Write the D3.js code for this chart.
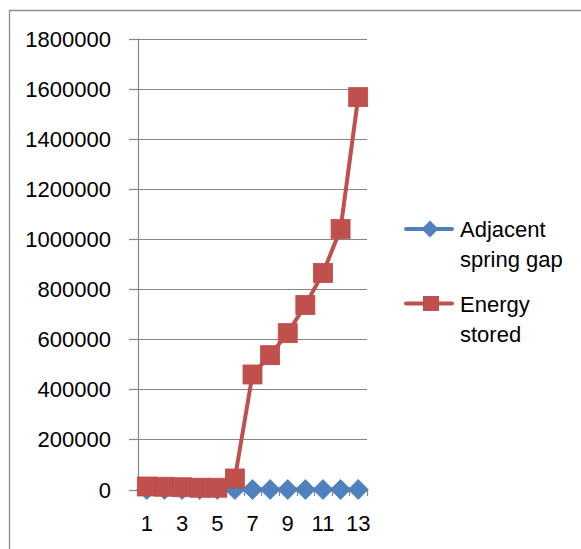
<!DOCTYPE html>
<html><head><meta charset="utf-8">
<script src="https://cdn.jsdelivr.net/npm/d3@7"></script>
<style>html,body{margin:0;padding:0;background:#fff;}svg{display:block;}</style>
</head><body>
<svg id="chart" width="581" height="549"></svg>
<script>
const categories = [1,2,3,4,5,6,7,8,9,10,11,12,13];
const springGap = [0,0,0,0,0,0,0,0,0,0,0,0,0];
const energyStored = [12000,11000,9000,7000,7000,44000,459000,536000,624000,736000,864000,1040000,1566000];
const yTicks = [0,200000,400000,600000,800000,1000000,1200000,1400000,1600000,1800000];
const xTickLabels = [1,3,5,7,9,11,13];
const seriesNames = ["Adjacent spring gap","Energy stored"];

const svg = d3.select("#chart");
const FONT = "'Liberation Sans', Arial, sans-serif";
const FS = 22;
const grid = "#868686";

// chart frame
svg.append("path").attr("d","M9.5,549 V10.5 H581").attr("fill","none").attr("stroke","#8c8c8c").attr("stroke-width",1.3);

const x = d3.scaleBand().domain(categories).range([138,367]).padding(0);
const y = d3.scaleLinear().domain([0,1800000]).range([489.5,38.5]);
const cx = d => x(d) + x.bandwidth()/2;

// gridlines
svg.append("g").selectAll("line").data(yTicks.filter(t=>t>0)).join("line")
  .attr("x1",138).attr("x2",367).attr("y1",d=>Math.round(y(d))+0.5).attr("y2",d=>Math.round(y(d))+0.5)
  .attr("stroke",grid).attr("stroke-width",1.2);

// y axis
const yAxis = d3.axisLeft(y).tickValues(yTicks).tickSize(9).tickPadding(18).tickFormat(d3.format("d"));
const gy = svg.append("g").attr("transform","translate(138,0)").call(yAxis);
gy.select(".domain").attr("stroke",grid).attr("stroke-width",1.2).attr("d","M0.5,38.5V489.5");
gy.selectAll(".tick line").attr("stroke",grid).attr("stroke-width",1.2);
gy.selectAll(".tick").attr("transform",d=>`translate(0,${Math.round(y(d))+0.5})`);
gy.selectAll("text").attr("font-family",FONT).attr("font-size",FS).attr("fill","#000").attr("dy","0.35em");

// x axis
const xAxis = d3.axisBottom(x).tickValues(xTickLabels).tickSize(0).tickPadding(25);
const gx = svg.append("g").attr("transform","translate(0,490)").call(xAxis);
gx.select(".domain").attr("stroke",grid).attr("stroke-width",1.2).attr("d","M138,0H367");
gx.selectAll("text").attr("font-family",FONT).attr("font-size",FS).attr("fill","#000");
// category boundary ticks
svg.append("g").selectAll("line").data(categories.concat([14])).join("line")
  .attr("x1",(d,i)=> i<13 ? Math.round(x(d))+0.5 : 367.5).attr("x2",(d,i)=> i<13 ? Math.round(x(d))+0.5 : 367.5)
  .attr("y1",490).attr("y2",496).attr("stroke",grid).attr("stroke-width",1.2);

const line = d3.line().x((d,i)=>cx(categories[i])).y(d=>y(d));

// blue series
svg.append("path").datum(springGap).attr("d",line).attr("fill","none").attr("stroke","#4F81BD").attr("stroke-width",4);
const dia = 10;
svg.append("g").selectAll("path").data(springGap).join("path")
  .attr("d",(d,i)=>{const px=cx(categories[i]),py=y(d);return `M${px},${py-dia}L${px+dia},${py}L${px},${py+dia}L${px-dia},${py}Z`;})
  .attr("fill","#4F81BD").attr("stroke","#4A7EBB").attr("stroke-width",0.8);

// red series
svg.append("path").datum(energyStored).attr("d",line).attr("fill","none").attr("stroke","#C0504D").attr("stroke-width",4);
const sq = 19;
svg.append("g").selectAll("rect").data(energyStored).join("rect")
  .attr("x",(d,i)=>cx(categories[i])-sq/2).attr("y",d=>y(d)-sq/2).attr("width",sq).attr("height",sq)
  .attr("fill","#C0504D").attr("stroke","#BE4B48").attr("stroke-width",0.8);

// legend
const leg = svg.append("g");
const legItems = [
  {name1:"Adjacent", name2:"spring gap", color:"#4F81BD", y:229, shape:"diamond"},
  {name1:"Energy", name2:"stored", color:"#C0504D", y:303.5, shape:"square"}
];
legItems.forEach((it,i)=>{
  leg.append("line").attr("x1",406).attr("x2",452).attr("y1",it.y).attr("y2",it.y)
    .attr("stroke",it.color).attr("stroke-width",4).attr("stroke-linecap","round");
  if(it.shape==="diamond"){
    leg.append("path").attr("d",`M430,${it.y-8.5}L438.5,${it.y}L430,${it.y+8.5}L421.5,${it.y}Z`).attr("fill",it.color);
  } else {
    leg.append("rect").attr("x",423).attr("y",it.y-7.5).attr("width",16).attr("height",15).attr("fill",it.color);
  }
  leg.append("text").attr("x",460).attr("y",it.y+8).attr("font-family",FONT).attr("font-size",FS).text(it.name1);
  leg.append("text").attr("x",460).attr("y",it.y+38).attr("font-family",FONT).attr("font-size",FS).text(it.name2);
});
</script>
</body></html>
